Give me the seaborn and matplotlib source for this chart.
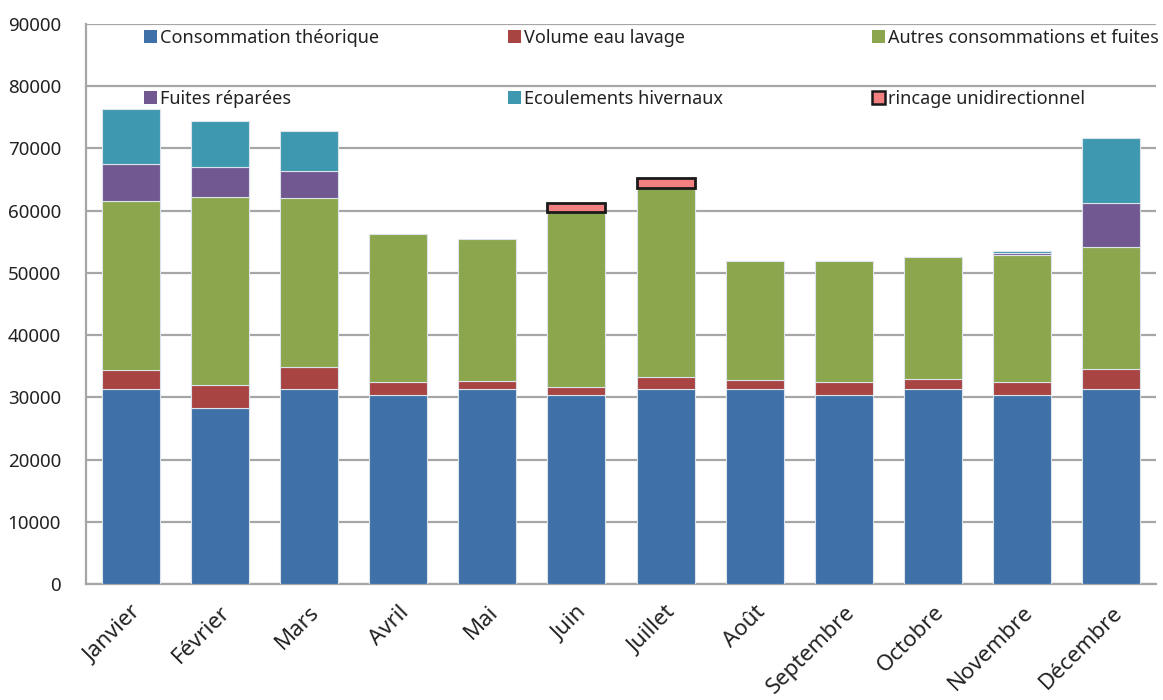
import matplotlib
matplotlib.use("Agg")
import matplotlib.pyplot as plt
from matplotlib.patches import Patch
import numpy as np
import pandas as pd
import seaborn as sns

mois = ["Janvier", "Février", "Mars", "Avril", "Mai", "Juin", "Juillet",
        "Août", "Septembre", "Octobre", "Novembre", "Décembre"]

consommation_theorique = [31400, 28300, 31400, 30300, 31300, 30300, 31300, 31300, 30300, 31300, 30300, 31300]
volume_eau_lavage = [3000, 3700, 3400, 2100, 1400, 1300, 2000, 1450, 2200, 1600, 2100, 3300]
autres_consommations = [27200, 30200, 27300, 23800, 22700, 28200, 30300, 19100, 19400, 19600, 20500, 19500]
fuites_reparees = [5900, 4800, 4300, 0, 0, 0, 0, 0, 0, 0, 250, 7100]
ecoulements_hivernaux = [8800, 7400, 6400, 0, 0, 0, 0, 0, 0, 0, 300, 10500]
rincage_unidirectionnel = [0, 0, 0, 0, 0, 1400, 1600, 0, 0, 0, 0, 0]

series = [
    ("Consommation théorique", consommation_theorique, "#3F70A8"),
    ("Volume eau lavage", volume_eau_lavage, "#A84442"),
    ("Autres consommations et fuites", autres_consommations, "#8BA64C"),
    ("Fuites réparées", fuites_reparees, "#715890"),
    ("Ecoulements hivernaux", ecoulements_hivernaux, "#3E98B0"),
    ("rincage unidirectionnel", rincage_unidirectionnel, "#F28080"),
]

sns.set_style("white")
plt.rcParams["font.family"] = ["Noto Sans", "DejaVu Sans"]

fig = plt.figure(figsize=(11.63, 7.0), dpi=100)
ax = fig.add_axes([0.0739, 0.1657, 0.9201, 0.8])

grid_color = "#A6A6A6"
bottom = np.zeros(len(mois))
for name, values, color in series:
    values = np.asarray(values, dtype=float)
    mask = values > 0
    frame = pd.DataFrame({"mois": np.array(mois)[mask], "valeur": values[mask]})
    if name == "rincage unidirectionnel":
        edge, lw = "#1A1A1A", 2.0
    else:
        edge, lw = "#DCE3EA", 0.8
    sns.barplot(data=frame, x="mois", y="valeur", order=mois, color=color,
                width=0.65, errorbar=None, saturation=1, bottom=bottom[mask],
                edgecolor=edge, linewidth=lw, ax=ax, zorder=3)
    bottom = bottom + values

ax.set_xlim(-0.5, len(mois) - 0.5)
ax.set_ylim(0, 90000)
ax.set_yticks(np.arange(0, 90001, 10000))
ax.yaxis.grid(True, color=grid_color, linewidth=1.6, zorder=0)
ax.set_axisbelow(True)
for side in ["top", "right"]:
    ax.spines[side].set_visible(False)
for side in ["left", "bottom"]:
    ax.spines[side].set_color(grid_color)
    ax.spines[side].set_linewidth(1.6)
ax.set_xlabel("")
ax.set_ylabel("")
ax.tick_params(axis="y", length=5, width=1.4, color=grid_color, labelsize=13.5,
               labelcolor="#222222", pad=13)
ax.tick_params(axis="x", length=0, labelsize=16, labelcolor="#222222", pad=13)
plt.setp(ax.get_xticklabels(), rotation=45, ha="right", rotation_mode="anchor")

# legend laid out as three columns of two rows
columns = [(0, 3, 131), (1, 4, 495), (2, 5, 859)]
for top_idx, bot_idx, xpix in columns:
    handles = []
    for idx in (top_idx, bot_idx):
        name, _, color = series[idx]
        if name == "rincage unidirectionnel":
            handles.append(Patch(facecolor=color, edgecolor="#1A1A1A", linewidth=1.8, label=name))
        else:
            handles.append(Patch(facecolor=color, edgecolor="none", label=name))
    leg = fig.legend(handles=handles, loc="upper left",
                     bbox_to_anchor=(xpix / 1163, 1 - 16 / 700),
                     frameon=False, fontsize=13, handlelength=0.72,
                     handleheight=0.72, handletextpad=0.2, labelspacing=2.4,
                     borderpad=0.2)
    for t in leg.get_texts():
        t.set_color("#222222")

fig.savefig("out.png", dpi=100)
